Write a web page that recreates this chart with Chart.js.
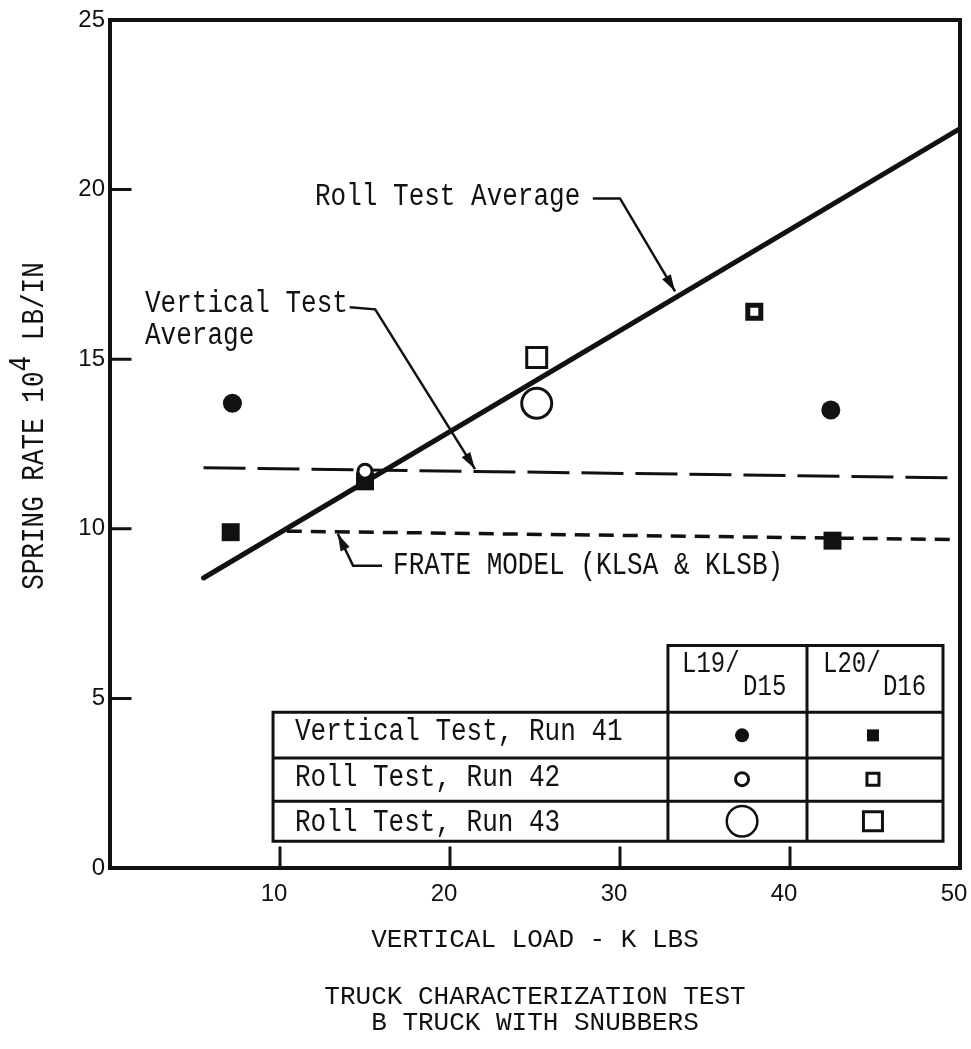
<!DOCTYPE html>
<html>
<head>
<meta charset="utf-8">
<title>Truck Characterization Test</title>
<script src="https://cdn.jsdelivr.net/npm/chart.js@4.4.0/dist/chart.umd.min.js"></script>
<style>
  html, body { margin: 0; padding: 0; background: #fff; }
  canvas { display: block; }
</style>
</head>
<body>
<canvas id="springChart" width="971" height="1049"></canvas>
<script>
// axis ticks
const xTicks = [0, 10, 20, 30, 40, 50];
const yTicks = [0, 5, 10, 15, 20, 25];

// averaged lines, end points (K LBS, 10^4 LB/IN)
const rollAvgX = [5.5, 50];
const rollAvgY = [8.55, 21.8];
const vertAvgX = [5.5, 50];
const vertAvgY = [11.8, 11.5];
const frateX = [10.4, 50];
const frateY = [9.93, 9.68];

// measured points
const run41L19X = [7.2, 42.4];
const run41L19Y = [13.7, 13.5];
const run41L20X = [7.1, 15.0, 42.5];
const run41L20Y = [9.9, 11.4, 9.65];
const run42L19X = [15.0];
const run42L19Y = [11.7];
const run42L20X = [37.9];
const run42L20Y = [16.4];
const run43L19X = [25.1];
const run43L19Y = [13.7];
const run43L20X = [25.1];
const run43L20Y = [15.05];

// texts
const tableRows = ['Vertical Test, Run 41', 'Roll Test, Run 42', 'Roll Test, Run 43'];
const tableCols = [['L19/', 'D15'], ['L20/', 'D16']];
const captionLines = ['TRUCK CHARACTERIZATION TEST', 'B TRUCK WITH SNUBBERS'];
const xTitle = 'VERTICAL LOAD - K LBS';

const INK = '#111';
const MONO = '"Liberation Mono", "DejaVu Sans Mono", monospace';
const monoFont = '26px ' + MONO;
const TALL = 1.2; // typewriter letters are taller than Liberation Mono

const pts = (xs, ys) => xs.map((x, i) => ({ x: x, y: ys[i] }));

// annotations, placed in data units
const notes = [
  { lines: ['Roll Test Average'], x: 12.06, y: 19.56,
    leader: [[28.4, 19.74], [30.0, 19.74], [33.24, 17.0]] },
  { lines: ['Vertical Test', 'Average'], x: 2.06, y: 16.38,
    leader: [[14.1, 16.53], [15.6, 16.47], [21.47, 11.76]] },
  { lines: ['FRATE MODEL (KLSA & KLSB)'], x: 16.65, y: 8.68,
    leader: [[16.0, 8.91], [14.3, 8.91], [13.4, 9.85]] }
];

function tallText(ctx, t, x, y) {
  ctx.save();
  ctx.translate(x, y);
  ctx.scale(1, TALL);
  ctx.fillText(t, 0, 0);
  ctx.restore();
}

function drawArrow(ctx, p) {
  ctx.beginPath();
  ctx.moveTo(p[0][0], p[0][1]);
  for (let i = 1; i < p.length; i++) ctx.lineTo(p[i][0], p[i][1]);
  ctx.stroke();
  const [x1, y1] = p[p.length - 2];
  const [x2, y2] = p[p.length - 1];
  const a = Math.atan2(y2 - y1, x2 - x1);
  const len = 17, half = 5;
  ctx.beginPath();
  ctx.moveTo(x2, y2);
  ctx.lineTo(x2 - len * Math.cos(a) + half * Math.sin(a), y2 - len * Math.sin(a) - half * Math.cos(a));
  ctx.lineTo(x2 - len * Math.cos(a) - half * Math.sin(a), y2 - len * Math.sin(a) + half * Math.cos(a));
  ctx.closePath();
  ctx.fill();
}

function symbol(ctx, kind, cx, cy, half, bw, filled) {
  ctx.beginPath();
  if (kind === 'circle') ctx.arc(cx, cy, half, 0, Math.PI * 2);
  else ctx.rect(cx - half, cy - half, half * 2, half * 2);
  if (filled) { ctx.fill(); return; }
  ctx.fillStyle = '#fff';
  ctx.fill();
  ctx.fillStyle = INK;
  ctx.lineWidth = bw;
  ctx.stroke();
}

const decorations = {
  id: 'decorations',
  afterDatasetsDraw(chart) {
    const { ctx, chartArea: area, scales: { x, y } } = chart;
    const px = v => x.getPixelForValue(v);
    const py = v => y.getPixelForValue(v);
    ctx.save();
    ctx.strokeStyle = INK;
    ctx.fillStyle = INK;
    ctx.lineCap = 'square';

    // frame
    ctx.lineWidth = 4;
    ctx.strokeRect(area.left, area.top, area.right - area.left, area.bottom - area.top);

    // inward tick marks
    ctx.lineWidth = 3;
    ctx.beginPath();
    xTicks.slice(1, -1).forEach(v => {
      ctx.moveTo(px(v), area.bottom);
      ctx.lineTo(px(v), area.bottom - 20);
    });
    yTicks.slice(1, -1).forEach(v => {
      ctx.moveTo(area.left, py(v));
      ctx.lineTo(area.left + 20, py(v));
    });
    ctx.stroke();

    // annotations
    ctx.font = monoFont;
    ctx.textBaseline = 'alphabetic';
    ctx.textAlign = 'left';
    ctx.lineWidth = 2.5;
    ctx.lineCap = 'butt';
    notes.forEach(n => {
      n.lines.forEach((t, i) => tallText(ctx, t, px(n.x), py(n.y) + i * 32));
      drawArrow(ctx, n.leader.map(p => [px(p[0]), py(p[1])]));
    });

    // legend table
    const L = px(9.59), R = px(49.0), c1 = px(32.82), c2 = px(41.0);
    const hTop = py(6.56), r1 = py(4.59), r2 = py(3.24), r3 = py(1.97), bot = py(0.79);
    ctx.fillStyle = '#fff';
    ctx.fillRect(c1, hTop, R - c1, r1 - hTop);
    ctx.fillRect(L, r1, R - L, bot - r1);
    ctx.fillStyle = INK;
    ctx.lineWidth = 3;
    ctx.beginPath();
    ctx.moveTo(c1, bot); ctx.lineTo(c1, hTop); ctx.lineTo(R, hTop); ctx.lineTo(R, bot);
    ctx.moveTo(c2, hTop); ctx.lineTo(c2, bot);
    ctx.rect(L, r1, R - L, bot - r1);
    ctx.moveTo(L, r2); ctx.lineTo(R, r2);
    ctx.moveTo(L, r3); ctx.lineTo(R, r3);
    ctx.stroke();

    // header L19/D15, L20/D16
    ctx.font = '24px ' + MONO;
    const colX = [[33.65, 37.24], [41.94, 45.47]];
    tableCols.forEach((c, i) => {
      tallText(ctx, c[0], px(colX[i][0]), py(5.79));
      tallText(ctx, c[1], px(colX[i][1]), py(5.09));
    });

    // row labels
    ctx.font = monoFont;
    const baseY = [3.76, 2.41, 1.09];
    tableRows.forEach((t, i) => tallText(ctx, t, px(10.88), py(baseY[i])));

    // row symbols
    const s1 = px(37.18), s2 = px(44.88);
    const rowY = [py(3.91), py(2.62), py(1.38)];
    symbol(ctx, 'circle', s1, rowY[0], 7, 0, true);
    symbol(ctx, 'rect', s2, rowY[0], 6, 0, true);
    symbol(ctx, 'circle', s1, rowY[1], 6.5, 3, false);
    symbol(ctx, 'rect', s2, rowY[1], 6, 3, false);
    symbol(ctx, 'circle', s1, rowY[2], 15.3, 2.5, false);
    symbol(ctx, 'rect', s2, rowY[2], 9.5, 3, false);

    // y axis title with superscript
    ctx.save();
    ctx.translate(area.left - 67, py(8.2));
    ctx.rotate(-Math.PI / 2);
    ctx.scale(1, TALL);
    ctx.font = monoFont;
    const a = 'SPRING RATE 10';
    ctx.fillText(a, 0, 0);
    const wa = ctx.measureText(a).width;
    ctx.fillText('4', wa, -11);
    ctx.fillText(' LB/IN', wa + ctx.measureText('4').width, 0);
    ctx.restore();

    ctx.restore();
  }
};

const tickFont = { family: '"Liberation Sans", Arial, sans-serif', size: 24 };

new Chart(document.getElementById('springChart'), {
  type: 'scatter',
  data: {
    datasets: [
      { label: 'Vertical Test, Run 41 L19/D15', data: pts(run41L19X, run41L19Y),
        pointStyle: 'circle', pointRadius: 9.5, pointBorderWidth: 0, backgroundColor: INK },
      { label: 'Roll Test, Run 42 L19/D15', data: pts(run42L19X, run42L19Y),
        pointStyle: 'circle', pointRadius: 7, pointBorderWidth: 3, backgroundColor: '#fff', borderColor: INK },
      { label: 'Vertical Test, Run 41 L20/D16', data: pts(run41L20X, run41L20Y),
        pointStyle: 'rect', pointRadius: 12.7, pointBorderWidth: 0, backgroundColor: INK },
      { label: 'Roll Test, Run 42 L20/D16', data: pts(run42L20X, run42L20Y),
        pointStyle: 'rect', pointRadius: 9.2, pointBorderWidth: 5, backgroundColor: '#fff', borderColor: INK },
      { label: 'Roll Test, Run 43 L19/D15', data: pts(run43L19X, run43L19Y),
        pointStyle: 'circle', pointRadius: 15, pointBorderWidth: 3, backgroundColor: '#fff', borderColor: INK },
      { label: 'Roll Test, Run 43 L20/D16', data: pts(run43L20X, run43L20Y),
        pointStyle: 'rect', pointRadius: 14.1, pointBorderWidth: 3, backgroundColor: '#fff', borderColor: INK },
      { label: 'Roll Test Average', data: pts(rollAvgX, rollAvgY), showLine: true,
        borderColor: INK, borderWidth: 5, pointRadius: 0, borderCapStyle: 'round' },
      { label: 'Vertical Test Average', data: pts(vertAvgX, vertAvgY), showLine: true,
        borderColor: INK, borderWidth: 3, borderDash: [42, 12], pointRadius: 0 },
      { label: 'FRATE MODEL (KLSA & KLSB)', data: pts(frateX, frateY), showLine: true,
        borderColor: INK, borderWidth: 3.5, borderDash: [15, 9], pointRadius: 0 }
    ]
  },
  options: {
    responsive: false,
    animation: false,
    events: [],
    layout: { autoPadding: false, padding: { top: 20, right: 11, left: 0, bottom: 0 } },
    plugins: {
      legend: { display: false },
      tooltip: { enabled: false },
      title: {
        display: true, position: 'bottom', fullSize: false,
        text: captionLines, color: INK,
        font: { family: MONO, size: 26, weight: 'normal', lineHeight: 1 },
        padding: { top: 16, bottom: 13 }
      }
    },
    scales: {
      x: {
        type: 'linear', min: 0, max: 50,
        afterBuildTicks: s => { s.ticks = xTicks.map(v => ({ value: v })); },
        afterFit: s => { s.height = 100; s.paddingLeft = 0; s.paddingRight = 0; },
        // hidden tick marks only push the labels down
        grid: { display: false, drawTicks: true, tickLength: 12 },
        border: { display: false },
        ticks: { font: tickFont, color: INK, padding: 0, maxRotation: 0, labelOffset: -6,
          callback: v => (v === 0 ? '' : v) },
        title: { display: true, text: xTitle, color: INK,
          font: { family: MONO, size: 26 }, padding: { top: 0, bottom: 12 } }
      },
      y: {
        type: 'linear', min: 0, max: 25,
        afterBuildTicks: s => { s.ticks = yTicks.map(v => ({ value: v })); },
        afterFit: s => { s.width = 110; },
        grid: { display: false, drawTicks: false },
        border: { display: false },
        ticks: { font: tickFont, color: INK, padding: 5 }
      }
    }
  },
  plugins: [decorations]
});
</script>
</body>
</html>
